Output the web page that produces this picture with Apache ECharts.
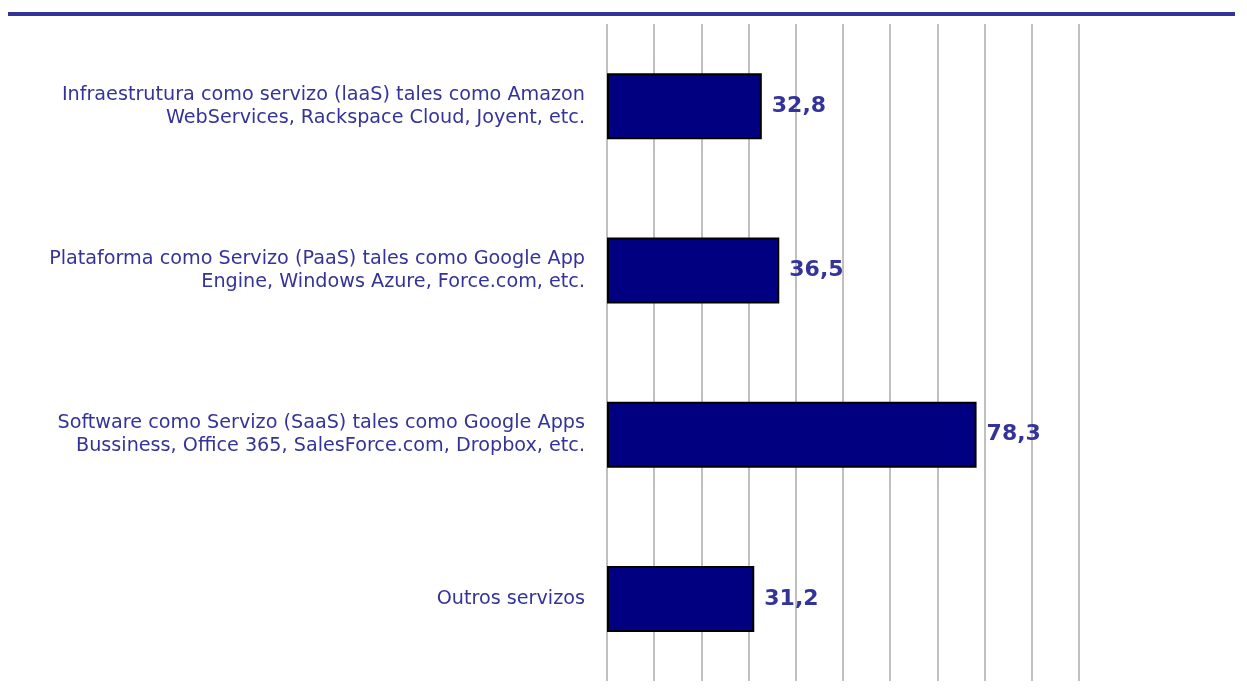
<!DOCTYPE html>
<html><head><meta charset="utf-8">
<script src="https://cdn.jsdelivr.net/npm/echarts@6/dist/echarts.min.js"></script>
<style>html,body{margin:0;padding:0;background:#fff}#c{width:1247px;height:700px}</style>
</head><body><div id="c"></div>
<script>
const categories = [
  "Infraestrutura como servizo (laaS) tales como Amazon\nWebServices, Rackspace Cloud, Joyent, etc.",
  "Plataforma como Servizo (PaaS) tales como Google App\nEngine, Windows Azure, Force.com, etc.",
  "Software como Servizo (SaaS) tales como Google Apps\nBussiness, Office 365, SalesForce.com, Dropbox, etc.",
  "Outros servizos"
];
const values = [32.8, 36.5, 78.3, 31.2];
const axisMin = 0, axisMax = 100, axisInterval = 10;

const chart = echarts.init(document.getElementById('c'));
chart.setOption({
  animation: false,
  graphic: [{type: 'rect', shape: {x: 8, y: 12, width: 1227, height: 4}, style: {fill: '#333399'}}],
  grid: {left: 607, right: 168, top: 24, bottom: 19, containLabel: false},
  xAxis: {
    type: 'value', min: axisMin, max: axisMax, interval: axisInterval,
    axisLabel: {show: false}, axisLine: {show: false}, axisTick: {show: false},
    splitLine: {show: true, lineStyle: {color: '#c0c0c0', width: 2}}
  },
  yAxis: {
    type: 'category', data: categories, inverse: true,
    axisLine: {show: false}, axisTick: {show: false},
    axisLabel: {color: '#333399', fontFamily: 'DejaVu Sans', fontSize: 19.2, lineHeight: 23, align: 'right', margin: 22}
  },
  series: [{
    type: 'bar', data: values, barWidth: 66,
    itemStyle: {color: '#000080', borderColor: '#000000', borderWidth: 2},
    label: {show: true, position: 'right', distance: 10, color: '#333399', fontFamily: 'DejaVu Sans', fontWeight: 'bold', fontSize: 22,
      formatter: p => p.value.toFixed(1).replace('.', ',')}
  }]
});
</script></body></html>
